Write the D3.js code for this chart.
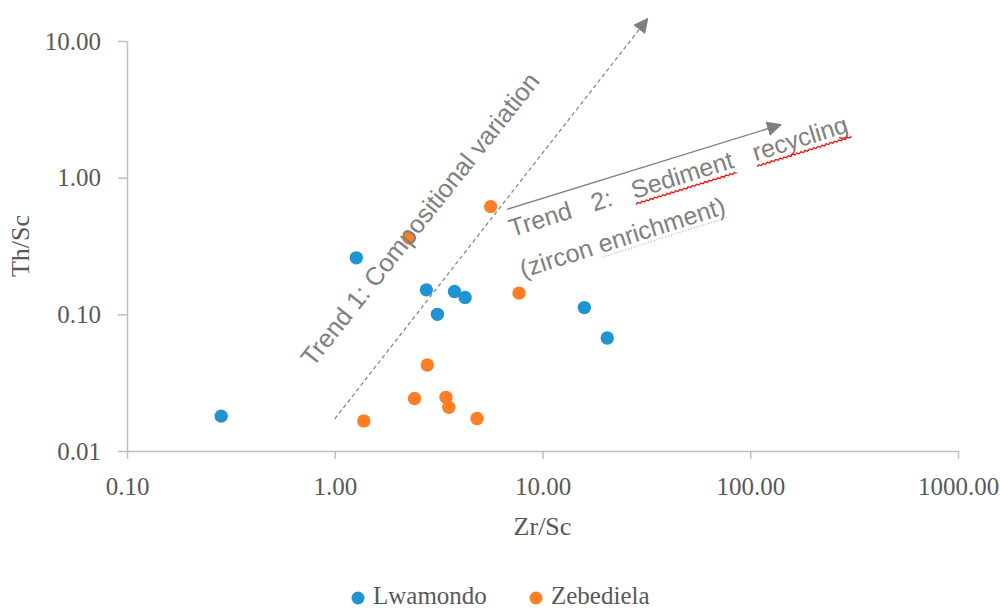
<!DOCTYPE html>
<html>
<head>
<meta charset="utf-8">
<script src="https://cdn.jsdelivr.net/npm/d3@7"></script>
<style>
  html, body { margin: 0; padding: 0; background: #fff; }
  svg { display: block; }
</style>
</head>
<body>
<svg id="chart" width="1000" height="608"></svg>
<script>
// Zr/Sc vs Th/Sc for the two sample suites
const lwamondoZrSc = [0.284, 1.27, 2.76, 3.77, 4.24, 3.12, 15.9, 20.5];
const lwamondoThSc = [0.0180, 0.259, 0.151, 0.147, 0.133, 0.100, 0.112, 0.0671];

const zebedielaZrSc = [5.63, 2.28, 7.71, 2.79, 1.38, 2.42, 3.43, 3.54, 4.84];
const zebedielaThSc = [0.614, 0.362, 0.143, 0.0426, 0.0166, 0.0242, 0.0247, 0.0209, 0.0173];

const xTicks = [0.1, 1, 10, 100, 1000];
const yTicks = [0.01, 0.1, 1, 10];

const seriesNames = ["Lwamondo", "Zebediela"];
const seriesColors = ["#1f94d3", "#fd7e24"];

// Trend arrows, in data units [Zr/Sc, Th/Sc]
const trend1 = [[1.0, 0.0172], [32, 14.5]];
const trend2 = [[6.73, 0.586], [140, 2.44]];

const svg = d3.select("#chart");
const plot = { left: 127, right: 958, top: 41, bottom: 451 };

const x = d3.scaleLog().domain([0.1, 1000]).range([plot.left, plot.right]);
const y = d3.scaleLog().domain([0.01, 10]).range([plot.bottom, plot.top]);

const axisColor = "#bfbfbf";
const textColor = "#595959";
const serif = "'Liberation Serif', 'DejaVu Serif', serif";
const sans = "'Liberation Sans', Arial, sans-serif";

// Axes
const xAxis = svg.append("g")
  .attr("transform", `translate(0,${plot.bottom})`)
  .call(d3.axisBottom(x).tickValues(xTicks).tickFormat(d3.format(".2f")).tickSize(8).tickSizeOuter(0));
const yAxis = svg.append("g")
  .attr("transform", `translate(${plot.left},0)`)
  .call(d3.axisLeft(y).tickValues(yTicks).tickFormat(d3.format(".2f")).tickSize(9).tickSizeOuter(0));

[xAxis, yAxis].forEach(g => {
  g.select(".domain").attr("stroke", axisColor).attr("stroke-width", 1.5);
  g.selectAll(".tick line").attr("stroke", axisColor).attr("stroke-width", 1.5);
  g.selectAll(".tick text").attr("fill", textColor).attr("font-family", serif).attr("font-size", 25);
});
xAxis.selectAll(".tick text").attr("dy", 0).attr("y", 44);
yAxis.selectAll(".tick text").attr("x", -26).attr("dy", "0.33em");

// Axis titles
svg.append("text")
  .attr("x", (plot.left + plot.right) / 2).attr("y", 535)
  .attr("text-anchor", "middle")
  .attr("fill", textColor).attr("font-family", serif).attr("font-size", 26)
  .text("Zr/Sc");
svg.append("text")
  .attr("transform", `translate(29,${(plot.top + plot.bottom) / 2}) rotate(-90)`)
  .attr("text-anchor", "middle")
  .attr("fill", textColor).attr("font-family", serif).attr("font-size", 26)
  .text("Th/Sc");

// Arrow markers
const defs = svg.append("defs");
["head1", "head2"].forEach(id => {
  defs.append("marker")
    .attr("id", id).attr("viewBox", "0 0 10 10")
    .attr("refX", 9).attr("refY", 5)
    .attr("markerWidth", 15).attr("markerHeight", 15)
    .attr("markerUnits", "userSpaceOnUse")
    .attr("orient", "auto")
    .append("path").attr("d", "M0,0 L10,5 L0,10 Z").attr("fill", "#7f7f7f");
});

const line = d3.line().x(d => x(d[0])).y(d => y(d[1]));

svg.append("path")
  .attr("d", line(trend1))
  .attr("fill", "none").attr("stroke", "#7f7f7f").attr("stroke-width", 1.2)
  .attr("stroke-dasharray", "4,3")
  .attr("marker-end", "url(#head1)");

svg.append("path")
  .attr("d", line(trend2))
  .attr("fill", "none").attr("stroke", "#7f7f7f").attr("stroke-width", 1.3)
  .attr("marker-end", "url(#head2)");

// Points
const series = [
  { name: seriesNames[0], color: seriesColors[0], xs: lwamondoZrSc, ys: lwamondoThSc },
  { name: seriesNames[1], color: seriesColors[1], xs: zebedielaZrSc, ys: zebedielaThSc }
];
series.forEach(s => {
  svg.append("g").selectAll("circle")
    .data(s.xs.map((v, i) => [v, s.ys[i]]))
    .join("circle")
    .attr("cx", d => x(d[0])).attr("cy", d => y(d[1]))
    .attr("r", 6.7).attr("fill", s.color);
});

// Trend 1 label
const annColor = "#808080";
svg.append("text")
  .attr("transform", "translate(313,368) rotate(-51.5)")
  .attr("fill", annColor).attr("font-family", sans).attr("font-size", 25.5)
  .text("Trend 1: Compositional variation");

// Trend 2 label, justified words with spell-check style underlines
function squiggle(x0, x1, yb) {
  let d = `M${x0},${yb}`;
  const step = 2.2;
  let up = true;
  for (let xx = x0 + step; xx <= x1; xx += step) {
    d += ` L${xx.toFixed(1)},${(yb + (up ? -1.6 : 0)).toFixed(1)}`;
    up = !up;
  }
  return d;
}

const t2 = svg.append("g").attr("transform", "translate(512,237) rotate(-17.3)");
const words = [["Trend", 0], ["2:", 86], ["Sediment", 128], ["recycling", 255]];
words.forEach(([w, off]) => {
  const t = t2.append("text")
    .attr("x", off).attr("y", 0)
    .attr("fill", annColor).attr("font-family", sans).attr("font-size", 25)
    .text(w);
  if (w === "Sediment" || w === "recycling") {
    const len = t.node().getComputedTextLength();
    t2.append("path")
      .attr("d", squiggle(off, off + len + 2, 6))
      .attr("fill", "none").attr("stroke", "#ff0000").attr("stroke-width", 1.2);
  }
});

const t3 = svg.append("g").attr("transform", "translate(523,278) rotate(-17.6)");
const l2 = t3.append("text")
  .attr("x", 0).attr("y", 0)
  .attr("fill", annColor).attr("font-family", sans).attr("font-size", 25);
l2.append("tspan").text("(zircon ");
l2.append("tspan").text("enrichment)");
{
  const start = l2.node().getSubStringLength(0, 8);
  const len = l2.node().getSubStringLength(8, 11);
  t3.append("line")
    .attr("x1", start).attr("x2", start + len)
    .attr("y1", 4).attr("y2", 4)
    .attr("stroke", "#ff8080").attr("stroke-width", 1)
    .attr("stroke-dasharray", "1,2");
}

// Legend
const legend = svg.append("g");
const legendItems = [
  { name: seriesNames[0], color: seriesColors[0], x: 358 },
  { name: seriesNames[1], color: seriesColors[1], x: 536 }
];
legendItems.forEach(it => {
  legend.append("circle").attr("cx", it.x).attr("cy", 598).attr("r", 6.5).attr("fill", it.color);
  legend.append("text")
    .attr("x", it.x + 15).attr("y", 604)
    .attr("fill", textColor).attr("font-family", serif).attr("font-size", 25)
    .text(it.name);
});
</script>
</body>
</html>
